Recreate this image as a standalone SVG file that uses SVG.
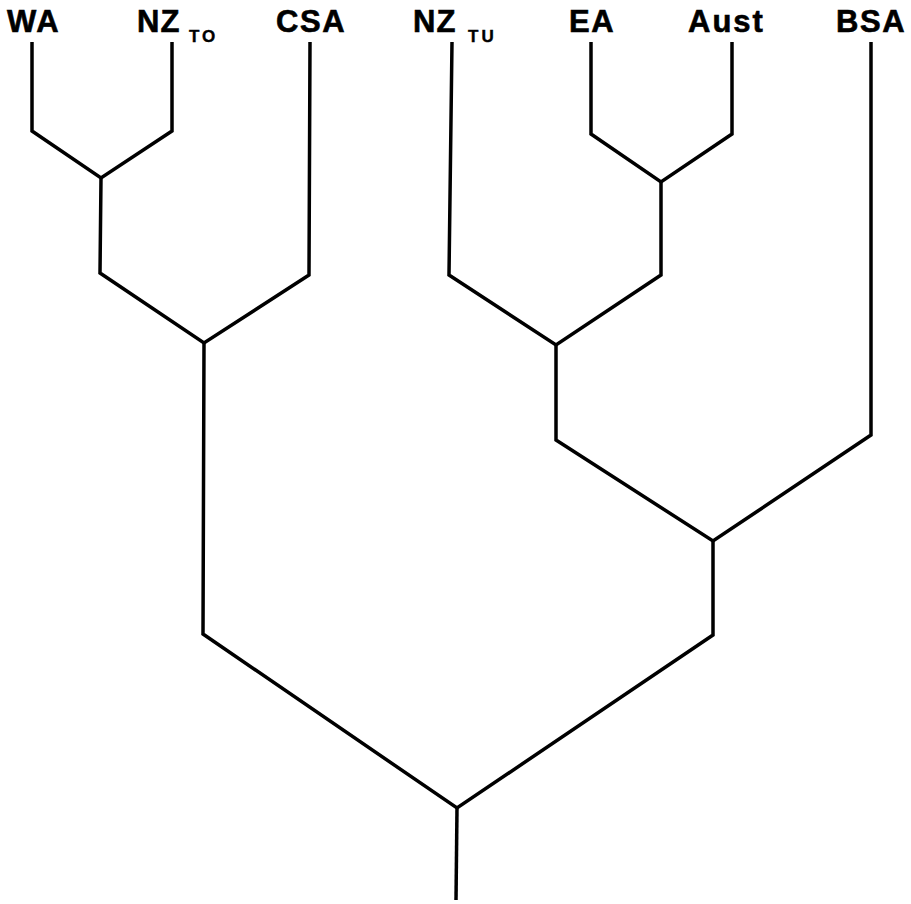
<svg xmlns="http://www.w3.org/2000/svg" width="911" height="904" viewBox="0 0 911 904">
<style>
.lbl{font-family:"Liberation Sans",Arial,sans-serif;font-weight:bold;font-size:31px;letter-spacing:1.6px;fill:#000;stroke:#000;stroke-width:0.6px}
.sub{font-family:"Liberation Sans",Arial,sans-serif;font-weight:bold;font-size:17px;letter-spacing:3px;fill:#000;stroke:#000;stroke-width:0.4px}
.br{fill:none;stroke:#000;stroke-width:3.5;stroke-linejoin:miter;stroke-linecap:butt}
</style>
<rect width="911" height="904" fill="#fff"/>
<g id="node-WA"><text class="lbl" x="7" y="32">WA</text></g>
<g id="node-NZTO"><text class="lbl" x="137" y="32" style="letter-spacing:1px">NZ</text><text class="sub" x="189" y="42">TO</text></g>
<g id="node-CSA"><text class="lbl" x="276" y="32">CSA</text></g>
<g id="node-NZTU"><text class="lbl" x="413" y="32" style="letter-spacing:1px">NZ</text><text class="sub" x="468" y="42">TU</text></g>
<g id="node-EA"><text class="lbl" x="569" y="32">EA</text></g>
<g id="node-Aust"><text class="lbl" x="688" y="32" style="letter-spacing:2px">Aust</text></g>
<g id="node-BSA"><text class="lbl" x="836" y="32">BSA</text></g>
<g id="connectors">
<path class="br" d="M32,42 L32,131 L101,178 L172,131 L172,42"/>
<path class="br" d="M101,178 L100,273 L204,343 L309,275 L310,42"/>
<path class="br" d="M204,343 L203,634 L457,808 L713,635 L713,541"/>
<path class="br" d="M591,42 L591,134 L661,182 L732,134 L732,42"/>
<path class="br" d="M661,182 L661,275 L556,345 L449,275 L452,42"/>
<path class="br" d="M556,345 L556,440 L713,541 L871,435 L871,42"/>
<path class="br" d="M457,808 L456,900"/>
</g>
</svg>
